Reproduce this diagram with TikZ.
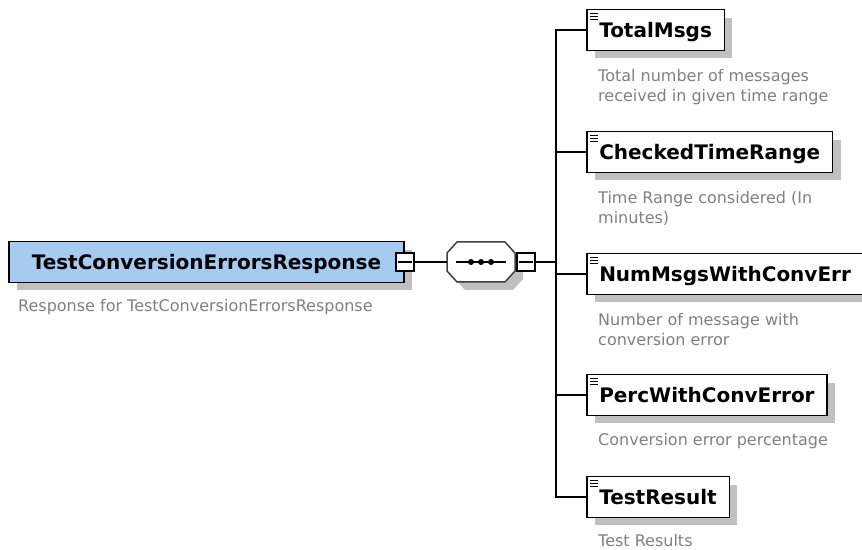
\documentclass[tikz,border=0pt]{standalone}
\usepackage{fontspec}
\setmainfont{DejaVu Sans}
\usetikzlibrary{shadows}

\definecolor{rootblue}{RGB}{166,202,240}
\definecolor{shadowgray}{RGB}{192,192,192}
\definecolor{notegray}{RGB}{128,128,128}

\tikzset{
  elem/.style={draw=black,line width=1.5bp,fill=white,anchor=west,
    inner xsep=12.5bp,inner ysep=13bp,text height=14.6bp,text depth=0bp,
    font=\fontsize{20bp}{24bp}\selectfont\bfseries,
    general shadow={fill=shadowgray,shadow xshift=8bp,shadow yshift=-8bp}},
  rootelem/.style={elem,fill=rootblue,inner xsep=23bp},
  note/.style={anchor=north west,inner sep=0pt,align=left,text=notegray,
    font=\fontsize{16bp}{20bp}\selectfont},
  minusbox/.style={draw=black,line width=1.2bp,fill=white,minimum size=18bp,inner sep=0pt},
  seqbox/.style={minimum width=68bp,minimum height=40bp,inner sep=0pt,outer sep=0pt},
  seqshadow/.style={fill=shadowgray,draw=none},
  seqline/.style={fill=white,draw=black!75,line width=1.5bp,line join=round},
  link/.style={line width=1.3bp}
}

\begin{document}
\begin{tikzpicture}[x=1bp,y=-1bp]
\useasboundingbox (0,0) rectangle (862,550);
% root element
\node[rootelem] (root) at (8,262) {TestConversionErrorsResponse};
\node[note] (rootnote) at (18,299) {Response for TestConversionErrorsResponse};
\node[minusbox] (rootx) at (root.east) {};
\draw[link] ([xshift=3bp]rootx.west) -- ([xshift=-3bp]rootx.east);
% sequence
\node[seqbox] (seq) at (481,262) {};
\foreach \s/\st in {8/seqshadow,0/seqline}
  \draw[\st] ([shift={(\s,\s)}]seq.west) ++(0,-9) -- ++(10,-11) -- ++(48,0) -- ++(10,11)
    -- ++(0,18) -- ++(-10,11) -- ++(-48,0) -- ++(-10,-11) -- cycle;
\draw[link] ([xshift=-25bp]seq.center) -- ([xshift=25bp]seq.center);
\foreach \d in {-10,0,10}
  \fill ([xshift=\d bp]seq.center) circle (3);
\node[minusbox] (seqx) at (526,262) {};
\draw[link] ([xshift=3bp]seqx.west) -- ([xshift=-3bp]seqx.east);
\coordinate (fork) at (556,262);
\draw[link] (rootx.east) -- (seq.west);
\draw[link] (seqx.east) -- (fork);
% children
\node[elem] (total) at (586,30) {TotalMsgs};
\node[note] (totalnote) at (598,69) {Total number of messages\\received in given time range};
\node[elem] (range) at (586,152) {CheckedTimeRange};
\node[note] (rangenote) at (598,191) {Time Range considered (In\\minutes)};
\node[elem] (numerr) at (586,274) {NumMsgsWithConvErr};
\node[note] (numerrnote) at (598,313) {Number of message with\\conversion error};
\node[elem] (perc) at (586,395) {PercWithConvError};
\node[note] (percnote) at (598,433) {Conversion error percentage};
\node[elem] (result) at (586,497) {TestResult};
\node[note] (resultnote) at (598,534) {Test Results};
\draw[link] (total.west) -- (total.west -| fork) -- (result.west -| fork) -- (result.west);
\foreach \n in {range,numerr,perc}
  \draw[link] (\n.west) -- (\n.west -| fork);
% element icons
\foreach \n in {total,range,numerr,perc,result}
  \foreach \k in {4.5,7.5,10.5}
    \draw[line width=1bp] ([shift={(4,\k)}]\n.north west) -- ++(8,0);
\end{tikzpicture}
\end{document}
